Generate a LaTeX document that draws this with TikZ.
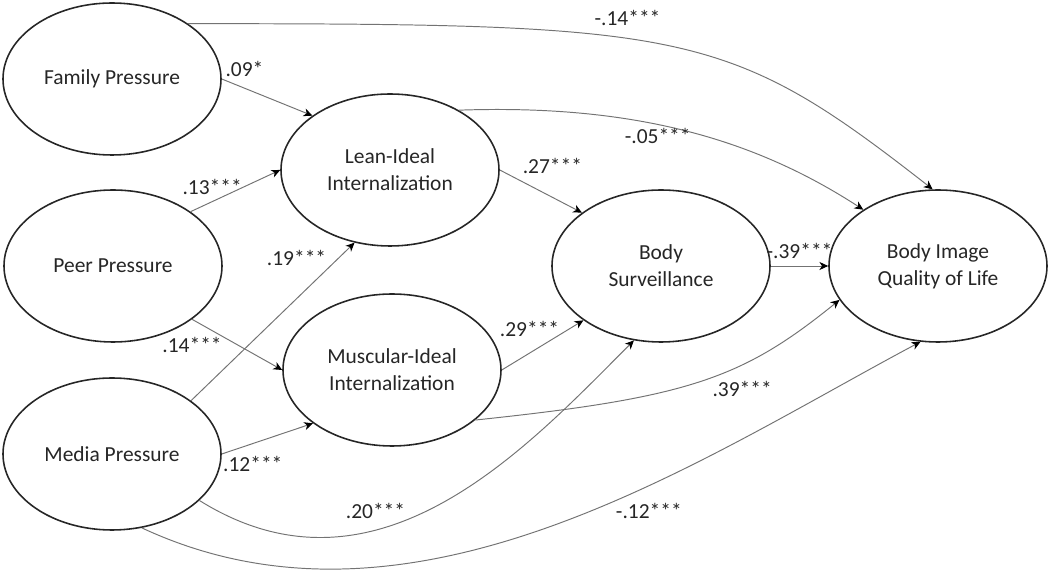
\documentclass[tikz,border=0pt]{standalone}
\usepackage{fontspec}
\setmainfont{Carlito}
\usepackage{tikz}
\usetikzlibrary{positioning, arrows.meta, shapes.geometric}
\tikzset{
  latent/.style={draw=black!85, line width=0.9pt, ellipse, inner sep=0pt, align=center,
                 minimum width=4.36cm, minimum height=3.04cm,
                 font=\fontsize{12.2}{15.5}\selectfont, text=black!85},
  eff/.style={-{Stealth[length=5pt, width=4.6pt, inset=1.5pt, color=black]},
              draw=black!55, line width=0.55pt},
  lbl/.style={font=\fontsize{12.2}{14}\selectfont, inner sep=1pt, text=black!85}
}

\begin{document}
\begin{tikzpicture}
  \useasboundingbox (0,0) rectangle (21,-11.5);
  % pressures
  \node[latent] (fam)  at (2.24,-1.58) {Family Pressure};
  \node[latent] (peer) at (2.26,-5.32) {Peer Pressure};
  \node[latent] (med)  at (2.24,-9.08) {Media Pressure};
  % internalization
  \node[latent] (lean) at (7.80,-3.40) {Lean-Ideal\\Internalization};
  \node[latent] (musc) at (7.84,-7.40) {Muscular-Ideal\\Internalization};
  % outcomes
  \node[latent] (surv) at (13.22,-5.32) {Body\\Surveillance};
  \node[latent] (qol)  at (18.76,-5.32) {Body Image\\Quality of Life};
  % straight paths
  \draw[eff] (fam.east) -- node[lbl,above=5pt,pos=0.25]{.09*} (lean.145);
  \draw[eff] (peer.35) -- node[lbl,above=2.5pt,pos=0.24]{.13***} (lean.west);
  \draw[eff] (peer.-34) -- node[lbl,below=9pt,pos=0]{.14***} (musc.west);
  \draw[eff] (med.34) -- node[lbl,anchor=south east,pos=0.84]{.19***} (lean.244);
  \draw[eff] (med.east) -- node[lbl,below=6pt,pos=0.34]{.12***} (musc.214);
  \draw[eff] (lean.east) -- node[lbl,above=12pt,pos=0.64]{.27***} (surv.146);
  \draw[eff] (musc.east) -- node[lbl,above=8pt,pos=0.34]{.29***} (surv.215);
  \draw[eff] (surv.east) -- node[lbl,above=3pt,pos=0.5]{-.39***} (qol.west);
  % curved paths
  \draw[eff] (fam.36) to[out=0, in=142, out distance=10cm, in distance=5.2cm]
    node[lbl,above=6pt,pos=0.43]{-.14***} (qol.94);
  \draw[eff] (lean.41) to[out=2, in=147, out distance=3.5cm, in distance=2.6cm]
    node[lbl,below=1pt,pos=0.43]{-.05***} (qol.143);
  \draw[eff] (musc.-31) to[out=6, in=219, out distance=4.3cm, in distance=2.5cm]
    node[lbl,below=8pt,pos=0.64]{.39***} (qol.199);
  \draw[eff] (med.-28) to[out=-32, in=225, out distance=4.2cm, in distance=3cm]
    node[lbl,above=5pt,pos=0.35]{.20***} (surv.250);
  \draw[eff] (med.-68) to[out=-25, in=208, out distance=6cm, in distance=5cm]
    node[lbl,anchor=north west,pos=0.58]{-.12***} (qol.257);
\end{tikzpicture}
\end{document}
